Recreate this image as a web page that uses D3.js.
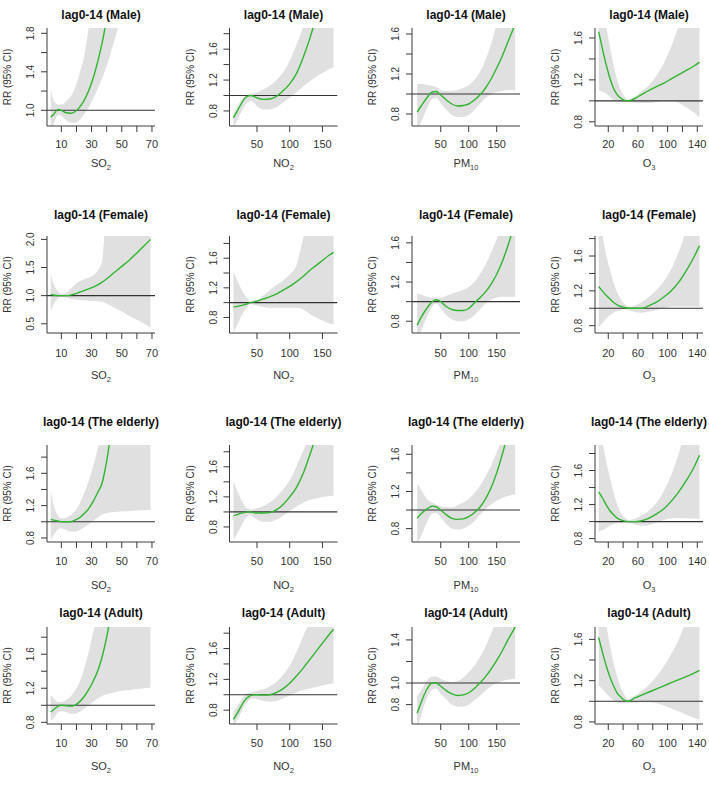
<!DOCTYPE html>
<html><head><meta charset="utf-8">
<script src="https://cdn.jsdelivr.net/npm/d3@7"></script>
<style>body{margin:0;background:#fff}svg{display:block}text{font-family:"Liberation Sans",Arial,sans-serif}</style>
</head><body><svg id="c" width="709" height="797"></svg>
<script>
// ---------- data ----------
const groups = ["Male", "Female", "The elderly", "Adult"];
const pollutantNames = [["SO", "2"], ["NO", "2"], ["PM", "10"], ["O", "3"]];

// exposure grids (µg/m3)
const xSO2  = [3, 5, 8, 10, 13, 16, 19, 22, 25, 28, 31, 34, 37, 40, 45, 50, 55, 60, 65, 69];
const xNO2  = [14, 20, 25, 30, 35, 40, 45, 50, 60, 70, 80, 90, 100, 110, 120, 130, 140, 150, 160, 167];
const xPM10 = [8, 15, 25, 35, 42, 50, 60, 70, 80, 90, 100, 110, 120, 130, 140, 150, 160, 170, 183];
const xO3   = [7, 12, 17, 22, 27, 32, 37, 42, 47, 55, 65, 75, 85, 95, 105, 115, 125, 135, 143];

// Male
const maleSO2_rr = [0.93, 0.96, 1.01, 1.0, 0.975, 0.97, 0.985, 1.03, 1.1, 1.2, 1.33, 1.5, 1.7, 1.95, 2.4, 2.9, 3.4, 3.9, 4.4, 4.8];
const maleSO2_lo = [0.78, 0.86, 0.95, 0.94, 0.9, 0.87, 0.87, 0.9, 0.96, 1.03, 1.12, 1.22, 1.33, 1.46, 1.72, 2.0, 2.3, 2.6, 2.9, 3.2];
const maleSO2_hi = [1.22, 1.1, 1.06, 1.06, 1.09, 1.14, 1.23, 1.38, 1.55, 1.85, 2.2, 2.6, 3.0, 3.4, 4.0, 4.6, 5.2, 5.8, 6.4, 7.0];
const maleNO2_rr = [0.71, 0.8, 0.88, 0.95, 0.99, 1.0, 0.99, 0.97, 0.95, 0.955, 0.99, 1.06, 1.15, 1.28, 1.48, 1.72, 2.0, 2.3, 2.6, 2.85];
const maleNO2_lo = [0.6, 0.68, 0.77, 0.85, 0.91, 0.93, 0.91, 0.86, 0.82, 0.82, 0.85, 0.91, 0.97, 1.04, 1.11, 1.18, 1.24, 1.29, 1.34, 1.37];
const maleNO2_hi = [0.76, 0.86, 0.93, 0.98, 1.01, 1.02, 1.03, 1.04, 1.08, 1.13, 1.2, 1.3, 1.45, 1.65, 1.88, 2.2, 2.6, 3.0, 3.4, 3.8];
const malePM10_rr = [0.82, 0.88, 0.96, 1.02, 1.025, 0.99, 0.94, 0.9, 0.88, 0.885, 0.9, 0.94, 0.99, 1.06, 1.15, 1.26, 1.38, 1.52, 1.7];
const malePM10_lo = [0.66, 0.72, 0.85, 0.95, 0.96, 0.91, 0.84, 0.79, 0.77, 0.77, 0.79, 0.84, 0.9, 0.96, 1.0, 1.02, 1.03, 1.04, 1.04];
const malePM10_hi = [1.1, 1.1, 1.09, 1.08, 1.07, 1.04, 1.03, 1.03, 1.04, 1.06, 1.09, 1.14, 1.22, 1.34, 1.5, 1.7, 1.9, 2.1, 2.4];
const maleO3_rr = [1.66, 1.5, 1.35, 1.22, 1.12, 1.06, 1.025, 1.005, 1.0, 1.02, 1.06, 1.1, 1.135, 1.17, 1.21, 1.25, 1.29, 1.33, 1.37];
const maleO3_lo = [1.1, 1.09, 1.07, 1.04, 1.01, 0.995, 0.99, 0.99, 0.99, 0.985, 0.98, 0.98, 0.99, 1.0, 1.0, 0.98, 0.94, 0.89, 0.84];
const maleO3_hi = [2.0, 1.9, 1.72, 1.52, 1.35, 1.2, 1.1, 1.04, 1.01, 1.04, 1.09, 1.15, 1.24, 1.36, 1.52, 1.72, 1.95, 2.2, 2.4];

// Female
const femaleSO2_rr = [1.02, 1.01, 1.0, 1.0, 1.0, 1.01, 1.03, 1.06, 1.09, 1.12, 1.15, 1.19, 1.24, 1.3, 1.41, 1.52, 1.63, 1.76, 1.89, 2.0];
const femaleSO2_lo = [0.72, 0.85, 0.96, 0.98, 0.97, 0.94, 0.93, 0.92, 0.92, 0.91, 0.91, 0.9, 0.89, 0.86, 0.79, 0.72, 0.64, 0.57, 0.5, 0.43];
const femaleSO2_hi = [1.37, 1.2, 1.07, 1.03, 1.05, 1.12, 1.2, 1.25, 1.29, 1.32, 1.36, 1.44, 1.62, 2.6, 2.8, 3.0, 3.3, 3.6, 3.9, 4.2];
const femaleNO2_rr = [0.94, 0.95, 0.96, 0.97, 0.985, 1.0, 1.01, 1.02, 1.05, 1.08, 1.12, 1.17, 1.22, 1.28, 1.35, 1.43, 1.5, 1.57, 1.64, 1.68];
const femaleNO2_lo = [0.6, 0.7, 0.8, 0.88, 0.94, 0.98, 0.97, 0.96, 0.94, 0.93, 0.93, 0.93, 0.93, 0.93, 0.91, 0.85, 0.8, 0.76, 0.72, 0.7];
const femaleNO2_hi = [1.42, 1.3, 1.2, 1.12, 1.06, 1.02, 1.03, 1.04, 1.1, 1.17, 1.24, 1.3, 1.38, 1.5, 1.85, 2.2, 2.4, 2.6, 2.8, 2.9];
const femalePM10_rr = [0.76, 0.84, 0.93, 1.0, 1.02, 1.0, 0.95, 0.92, 0.91, 0.91, 0.93, 0.985, 1.04, 1.1, 1.18, 1.28, 1.41, 1.57, 1.82];
const femalePM10_lo = [0.64, 0.7, 0.84, 0.95, 0.98, 0.93, 0.86, 0.82, 0.8, 0.8, 0.82, 0.86, 0.92, 0.98, 1.02, 1.04, 1.05, 1.05, 1.05];
const femalePM10_hi = [1.08, 1.07, 1.05, 1.04, 1.04, 1.04, 1.06, 1.08, 1.1, 1.12, 1.15, 1.2, 1.28, 1.38, 1.5, 1.64, 1.8, 2.0, 2.2];
const femaleO3_rr = [1.25, 1.2, 1.15, 1.11, 1.07, 1.04, 1.02, 1.01, 1.0, 1.0, 1.0, 1.03, 1.07, 1.13, 1.2, 1.3, 1.43, 1.58, 1.72];
const femaleO3_lo = [0.78, 0.83, 0.88, 0.92, 0.95, 0.97, 0.98, 0.99, 0.98, 0.96, 0.95, 0.96, 0.98, 1.0, 1.02, 1.02, 1.02, 1.02, 1.02];
const femaleO3_hi = [2.0, 1.85, 1.62, 1.45, 1.3, 1.18, 1.1, 1.05, 1.02, 1.03, 1.07, 1.13, 1.21, 1.31, 1.45, 1.65, 1.9, 2.2, 2.5];

// The elderly
const elderSO2_rr = [1.03, 1.02, 1.01, 1.0, 1.0, 1.0, 1.02, 1.05, 1.1, 1.16, 1.25, 1.36, 1.48, 1.75, 2.4, 3.0, 3.5, 4.0, 4.5, 5.0];
const elderSO2_lo = [0.78, 0.84, 0.91, 0.92, 0.9, 0.88, 0.88, 0.9, 0.93, 0.97, 1.01, 1.05, 1.09, 1.11, 1.12, 1.13, 1.135, 1.14, 1.145, 1.15];
const elderSO2_hi = [1.38, 1.2, 1.07, 1.04, 1.05, 1.08, 1.13, 1.22, 1.35, 1.5, 1.68, 1.9, 2.1, 2.4, 2.8, 3.0, 3.0, 3.0, 3.0, 3.0];
const elderNO2_rr = [0.95, 0.965, 0.98, 0.99, 1.0, 1.0, 0.99, 0.985, 0.985, 0.99, 1.03, 1.1, 1.2, 1.32, 1.5, 1.74, 2.0, 2.25, 2.5, 2.7];
const elderNO2_lo = [0.63, 0.72, 0.8, 0.88, 0.94, 0.96, 0.93, 0.9, 0.87, 0.87, 0.9, 0.95, 1.01, 1.07, 1.12, 1.16, 1.18, 1.2, 1.21, 1.22];
const elderNO2_hi = [1.4, 1.28, 1.18, 1.1, 1.05, 1.03, 1.04, 1.05, 1.08, 1.13, 1.2, 1.3, 1.42, 1.6, 1.8, 2.0, 2.3, 2.6, 2.9, 3.1];
const elderPM10_rr = [0.91, 0.96, 1.01, 1.04, 1.035, 1.0, 0.95, 0.91, 0.9, 0.905, 0.93, 0.97, 1.03, 1.12, 1.24, 1.4, 1.6, 1.82, 2.1];
const elderPM10_lo = [0.65, 0.72, 0.86, 0.96, 0.97, 0.92, 0.85, 0.8, 0.79, 0.8, 0.83, 0.88, 0.95, 1.01, 1.06, 1.1, 1.13, 1.15, 1.17];
const elderPM10_hi = [1.28, 1.22, 1.12, 1.08, 1.06, 1.04, 1.03, 1.03, 1.05, 1.08, 1.12, 1.18, 1.26, 1.36, 1.48, 1.62, 1.78, 1.95, 2.2];
const elderO3_rr = [1.35, 1.28, 1.2, 1.13, 1.08, 1.04, 1.02, 1.005, 1.0, 1.0, 1.01, 1.04, 1.09, 1.15, 1.24, 1.35, 1.48, 1.63, 1.78];
const elderO3_lo = [0.88, 0.9, 0.92, 0.95, 0.97, 0.98, 0.99, 0.99, 0.985, 0.97, 0.95, 0.96, 0.99, 1.02, 1.04, 1.04, 1.04, 1.035, 1.03];
const elderO3_hi = [2.0, 1.92, 1.72, 1.52, 1.35, 1.2, 1.1, 1.05, 1.02, 1.03, 1.07, 1.13, 1.22, 1.36, 1.55, 1.8, 2.1, 2.4, 2.6];

// Adult
const adultSO2_rr = [0.92, 0.95, 0.99, 1.0, 0.995, 0.99, 1.0, 1.04, 1.1, 1.18, 1.28, 1.4, 1.57, 1.8, 2.3, 2.8, 3.3, 3.8, 4.3, 4.7];
const adultSO2_lo = [0.82, 0.85, 0.92, 0.93, 0.92, 0.9, 0.9, 0.92, 0.96, 1.0, 1.04, 1.08, 1.11, 1.13, 1.15, 1.17, 1.18, 1.19, 1.2, 1.21];
const adultSO2_hi = [1.12, 1.08, 1.04, 1.04, 1.06, 1.1, 1.17, 1.27, 1.42, 1.62, 1.85, 2.1, 2.4, 2.7, 3.0, 3.0, 3.0, 3.0, 3.0, 3.0];
const adultNO2_rr = [0.68, 0.76, 0.84, 0.91, 0.96, 0.99, 1.0, 1.0, 0.995, 1.0, 1.03, 1.08, 1.15, 1.24, 1.34, 1.45, 1.56, 1.67, 1.78, 1.85];
const adultNO2_lo = [0.6, 0.68, 0.76, 0.84, 0.9, 0.94, 0.95, 0.94, 0.92, 0.91, 0.92, 0.95, 0.99, 1.03, 1.06, 1.08, 1.1, 1.12, 1.14, 1.15];
const adultNO2_hi = [0.78, 0.85, 0.92, 0.98, 1.02, 1.03, 1.04, 1.05, 1.07, 1.11, 1.17, 1.26, 1.38, 1.55, 1.75, 1.95, 2.2, 2.4, 2.6, 2.8];
const adultPM10_rr = [0.72, 0.82, 0.94, 1.0, 1.0, 0.97, 0.93, 0.9, 0.885, 0.89, 0.91, 0.95, 1.0, 1.06, 1.13, 1.21, 1.3, 1.4, 1.52];
const adultPM10_lo = [0.58, 0.7, 0.86, 0.94, 0.95, 0.9, 0.85, 0.8, 0.78, 0.78, 0.8, 0.84, 0.88, 0.93, 0.97, 1.0, 1.02, 1.03, 1.04];
const adultPM10_hi = [0.88, 0.93, 1.02, 1.06, 1.06, 1.04, 1.02, 1.01, 1.02, 1.05, 1.1, 1.16, 1.24, 1.34, 1.46, 1.6, 1.8, 2.0, 2.2];
const adultO3_rr = [1.62, 1.48, 1.35, 1.24, 1.15, 1.08, 1.04, 1.01, 1.0, 1.03, 1.06, 1.09, 1.12, 1.15, 1.18, 1.21, 1.24, 1.27, 1.3];
const adultO3_lo = [1.15, 1.12, 1.08, 1.04, 1.01, 0.99, 0.98, 0.98, 0.98, 0.985, 0.99, 0.99, 0.98, 0.96, 0.93, 0.9, 0.87, 0.84, 0.82];
const adultO3_hi = [2.0, 1.9, 1.75, 1.55, 1.38, 1.24, 1.13, 1.06, 1.02, 1.05, 1.1, 1.16, 1.24, 1.34, 1.46, 1.6, 1.78, 1.95, 2.1];

// axis ranges and ticks
const xDomains = [[0.5, 72], [8, 173], [-1.3, 191.6], [2.1, 147.7]];
const xTicks = [[10, 20, 30, 40, 50, 60, 70], [50, 100, 150], [50, 100, 150], [20, 40, 60, 80, 100, 120, 140]];
const xTickLabels = [[10, 30, 50, 70], [50, 100, 150], [50, 100, 150], [20, 60, 100, 140]];
const yDomains = [
  [[0.837, 1.855], [0.605, 1.874], [0.68, 1.66], [0.76, 1.695]],
  [[0.336, 2.06], [0.59, 1.9], [0.68, 1.67], [0.716, 1.83]],
  [[0.75, 1.95], [0.6, 1.89], [0.656, 1.7], [0.76, 1.9]],
  [[0.78, 1.92], [0.62, 1.88], [0.62, 1.52], [0.78, 1.72]]
];
const yTicks = [
  [[1.0, 1.2, 1.4, 1.6, 1.8], [0.8, 1.0, 1.2, 1.4, 1.6, 1.8], [0.8, 1.0, 1.2, 1.4, 1.6], [0.8, 1.0, 1.2, 1.4, 1.6]],
  [[0.5, 1.0, 1.5, 2.0], [0.8, 1.0, 1.2, 1.4, 1.6, 1.8], [0.8, 1.0, 1.2, 1.4, 1.6], [0.8, 1.0, 1.2, 1.4, 1.6, 1.8]],
  [[0.8, 1.0, 1.2, 1.4, 1.6, 1.8], [0.8, 1.0, 1.2, 1.4, 1.6, 1.8], [0.8, 1.0, 1.2, 1.4, 1.6], [0.8, 1.0, 1.2, 1.4, 1.6, 1.8]],
  [[0.8, 1.0, 1.2, 1.4, 1.6, 1.8], [0.8, 1.0, 1.2, 1.4, 1.6, 1.8], [0.8, 1.0, 1.2, 1.4], [0.8, 1.0, 1.2, 1.4, 1.6]]
];
const yTickLabels = [
  [[1.0, 1.4, 1.8], [0.8, 1.2, 1.6], [0.8, 1.2, 1.6], [0.8, 1.2, 1.6]],
  [[0.5, 1.0, 1.5, 2.0], [0.8, 1.2, 1.6], [0.8, 1.2, 1.6], [0.8, 1.2, 1.6]],
  [[0.8, 1.2, 1.6], [0.8, 1.2, 1.6], [0.8, 1.2, 1.6], [0.8, 1.2, 1.6]],
  [[0.8, 1.2, 1.6], [0.8, 1.2, 1.6], [0.8, 1.0, 1.4], [0.8, 1.2, 1.6]]
];

// ---------- assemble ----------
const grids = [xSO2, xNO2, xPM10, xO3];
const series = [
  [[maleSO2_rr, maleSO2_lo, maleSO2_hi], [maleNO2_rr, maleNO2_lo, maleNO2_hi], [malePM10_rr, malePM10_lo, malePM10_hi], [maleO3_rr, maleO3_lo, maleO3_hi]],
  [[femaleSO2_rr, femaleSO2_lo, femaleSO2_hi], [femaleNO2_rr, femaleNO2_lo, femaleNO2_hi], [femalePM10_rr, femalePM10_lo, femalePM10_hi], [femaleO3_rr, femaleO3_lo, femaleO3_hi]],
  [[elderSO2_rr, elderSO2_lo, elderSO2_hi], [elderNO2_rr, elderNO2_lo, elderNO2_hi], [elderPM10_rr, elderPM10_lo, elderPM10_hi], [elderO3_rr, elderO3_lo, elderO3_hi]],
  [[adultSO2_rr, adultSO2_lo, adultSO2_hi], [adultNO2_rr, adultNO2_lo, adultNO2_hi], [adultPM10_rr, adultPM10_lo, adultPM10_hi], [adultO3_rr, adultO3_lo, adultO3_hi]]
];

// ---------- layout ----------
const colLeft = [47, 229.5, 412, 595];
const plotW = 108;
const rowTop = [28, 236, 445, 627];
const rowBottom = [126, 333, 542, 724];
const titleY = [19, 219, 426, 617];
const tickLabOff = [22, 24, 23, 23];
const xTitleOff = [41, 46, 47, 46];

const svg = d3.select("#c");
const ink = "#3a3a3a";

groups.forEach((grp, r) => {
  pollutantNames.forEach((pn, c) => {
    const L = colLeft[c], R = L + plotW, T = rowTop[r], B = rowBottom[r];
    const x = d3.scaleLinear().domain(xDomains[c]).range([L, R]);
    const y = d3.scaleLinear().domain(yDomains[r][c]).range([B, T]);
    const g = svg.append("g");
    const cid = `clip${r}${c}`;
    g.append("clipPath").attr("id", cid).append("rect")
      .attr("x", L).attr("y", T).attr("width", R - L).attr("height", B - T);

    const [rr, lo, hi] = series[r][c];
    const pts = grids[c].map((xv, i) => ({x: xv, rr: rr[i], lo: lo[i], hi: hi[i]}));
    const plot = g.append("g").attr("clip-path", `url(#${cid})`);
    plot.append("path").datum(pts)
      .attr("d", d3.area().x(d => x(d.x)).y0(d => y(d.lo)).y1(d => y(d.hi)).curve(d3.curveMonotoneX))
      .attr("fill", "#e0e0e0");
    plot.append("line").attr("x1", L).attr("x2", R).attr("y1", y(1)).attr("y2", y(1))
      .attr("stroke", "#333").attr("stroke-width", 1.1);
    plot.append("path").datum(pts)
      .attr("d", d3.line().x(d => x(d.x)).y(d => y(d.rr)).curve(d3.curveMonotoneX))
      .attr("fill", "none").attr("stroke", "#2fb52f").attr("stroke-width", 1.4);

    // L-shaped frame
    g.append("path").attr("d", `M${L},${T}V${B}H${R}`)
      .attr("fill", "none").attr("stroke", ink).attr("stroke-width", 1);

    // x axis ticks
    xTicks[c].forEach(t => {
      g.append("line").attr("x1", x(t)).attr("x2", x(t)).attr("y1", B).attr("y2", B + 6)
        .attr("stroke", ink);
    });
    xTickLabels[c].forEach(t => {
      g.append("text").attr("x", x(t)).attr("y", B + tickLabOff[r])
        .attr("text-anchor", "middle").attr("font-size", 11).attr("fill", "#333").text(t);
    });
    // y axis ticks
    yTicks[r][c].forEach(t => {
      g.append("line").attr("x1", L - 6).attr("x2", L).attr("y1", y(t)).attr("y2", y(t))
        .attr("stroke", ink);
    });
    yTickLabels[r][c].forEach(t => {
      g.append("text").attr("transform", `translate(${L - 13},${y(t)}) rotate(-90)`)
        .attr("text-anchor", "middle").attr("font-size", 10).attr("fill", "#333").text(t.toFixed(1));
    });
    // axis titles
    g.append("text").attr("transform", `translate(${L - 36},${(T + B) / 2}) rotate(-90)`)
      .attr("text-anchor", "middle").attr("font-size", 10).attr("fill", "#333").text("RR (95% CI)");
    const xt = g.append("text").attr("x", (L + R) / 2).attr("y", B + xTitleOff[r])
      .attr("text-anchor", "middle").attr("font-size", 11).attr("fill", "#333");
    xt.append("tspan").text(pn[0]);
    xt.append("tspan").attr("font-size", 7.5).attr("dy", 3).text(pn[1]);
    // title
    g.append("text").attr("x", (L + R) / 2).attr("y", titleY[r])
      .attr("text-anchor", "middle").attr("font-size", 12).attr("font-weight", "bold").attr("fill", "#111")
      .text(`lag0-14 (${grp})`);
  });
});
</script></body></html>
